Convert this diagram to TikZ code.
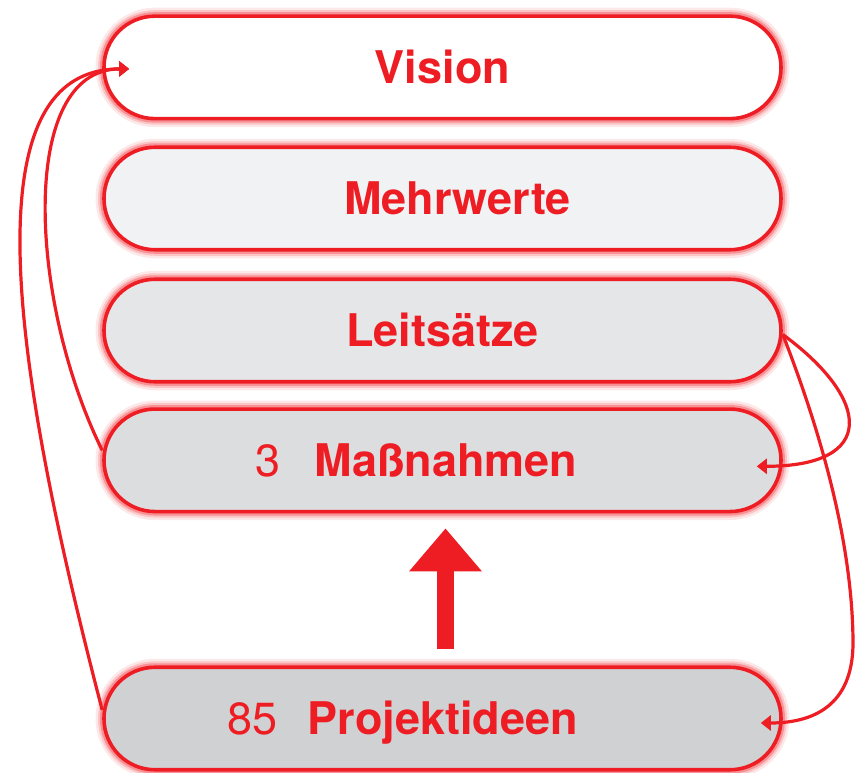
\documentclass[tikz,border=0pt]{standalone}
\usepackage{fontspec}
\setmainfont{TeX Gyre Heros}
\usetikzlibrary{arrows.meta}
\definecolor{signal}{HTML}{EE1D24}
\definecolor{grey1}{HTML}{F1F2F4}
\definecolor{grey2}{HTML}{E5E6E8}
\definecolor{grey3}{HTML}{DCDDDF}
\definecolor{grey4}{HTML}{D0D1D3}

\begin{document}
\begin{tikzpicture}[x=1pt,y=-1pt,
        box/.style={rectangle,rounded corners=51pt,minimum width=677pt,minimum height=102.5pt,
            inner sep=0pt,draw=signal,line width=3.6pt,
            preaction={draw=signal,opacity=0.1,line width=17pt},
            preaction={draw=signal,opacity=0.18,line width=12pt},
            preaction={draw=signal,opacity=0.3,line width=8pt}},
        caption/.style={text=signal,font=\fontsize{45}{54}\selectfont,inner sep=0pt,
            text height=32.5pt,text depth=0pt},
        link/.style={draw=signal,line width=3.2pt,-{Triangle[length=10pt,width=15pt]}}]
        \useasboundingbox (0,0) rectangle (855,772);
        % the five levels
        \node[box,fill=white] (vision)  at (442.5,67.4)  {};
        \node[box,fill=grey1] (mehr)    at (442.5,198.5) {};
        \node[box,fill=grey2] (leit)    at (442.5,330.5) {};
        \node[box,fill=grey3] (massn)   at (442.5,460.3) {};
        \node[box,fill=grey4] (projekt) at (442.5,718.5) {};
        \node[caption] (vision-text)  at (vision.center) {\bfseries Vision};
        \node[caption,xshift=15pt] (mehr-text) at (mehr.center) {\bfseries Mehrwerte};
        \node[caption] (leit-text)    at (leit.center) {\bfseries Leitsätze};
        \node[caption,xshift=-26pt] (massn-text) at (massn.center) {3\hspace{0.75em}\textbf{Maßnahmen}};
        \node[caption,xshift=-40pt] (projekt-text) at (projekt.center) {85\hspace{0.68em}\textbf{Projektideen}};
        \coordinate (vision-in)  at ([xshift=27pt,yshift=-1.5pt]vision.west);
        \coordinate (massn-in)   at ([xshift=-26pt,yshift=-6pt]massn.east);
        \coordinate (projekt-in) at ([xshift=-22pt,yshift=-4.5pt]projekt.east);
        % big arrow
        \draw[signal,line width=16.7pt,-{Triangle[length=43pt,width=70pt]},shorten <=16pt,shorten >=15pt]
            ([xshift=3pt]projekt.north) -- ([xshift=3pt]massn.south);
        % feedback lines
        \draw[link] ([yshift=10pt]massn.west) .. controls +(-74,-150) and +(-111,0) .. (vision-in);
        \draw[link] ([yshift=8.5pt]projekt.west) .. controls +(-86,-330) and +(-165,0) .. (vision-in);
        \draw[link] ([yshift=-4pt]leit.east) .. controls +(89,65.5) and +(120,0) .. (massn-in);
        \draw[link] ([yshift=-4pt]leit.east) .. controls (820,430) and (852,540) .. (853,640)
            .. controls (854,700) and (820,723) .. (projekt-in);
    \end{tikzpicture}
\end{document}
